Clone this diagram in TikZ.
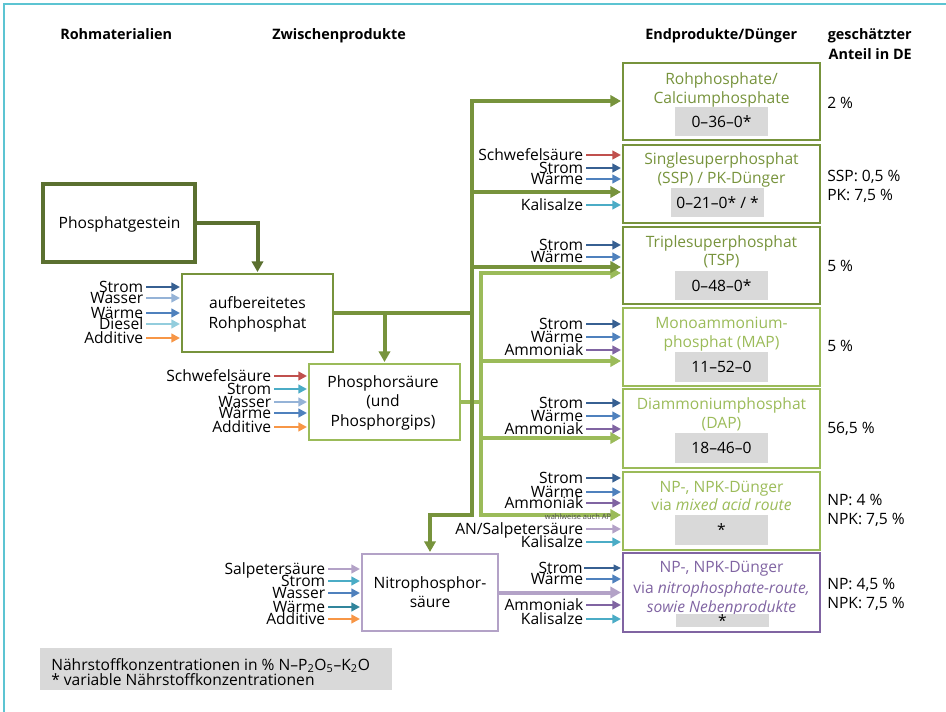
\documentclass[tikz,border=0pt]{standalone}
\usepackage{fontspec}
\setmainfont{Open Sans}
\usetikzlibrary{arrows.meta,calc}

\definecolor{pgolive}{HTML}{5B7030}
\definecolor{olive}{HTML}{77933C}
\definecolor{lgreen}{HTML}{9BBB59}
\definecolor{purp}{HTML}{8064A2}
\definecolor{lpurp}{HTML}{B3A2C7}
\definecolor{dblue}{HTML}{376092}
\definecolor{mblue}{HTML}{4F81BD}
\definecolor{lblue}{HTML}{95B3D7}
\definecolor{dieselc}{HTML}{93CDDD}
\definecolor{cyanc}{HTML}{4BACC6}
\definecolor{tealc}{HTML}{31859C}
\definecolor{redc}{HTML}{C0504D}
\definecolor{orangec}{HTML}{F79646}
\definecolor{grayc}{HTML}{D9D9D9}
\definecolor{framec}{HTML}{5CC4D2}

\tikzset{
  basefont/.style={font=\fontsize{11.7}{12}\selectfont},
  lbl/.style={basefont, inner sep=0pt, anchor=base east, text=black},
  txt/.style={basefont, inner sep=0pt, anchor=base},
  pct/.style={basefont, inner sep=0pt, anchor=base west, text=black},
  hdr/.style={font=\bfseries\fontsize{10.8}{12}\selectfont, inner sep=0pt},
  boxsz/.style n args={2}{minimum width=#1*0.75pt, minimum height=#2*0.75pt},
  pbox/.style={draw, rectangle, inner sep=0pt, line width=2pt},
  graybox/.style={fill=grayc, rectangle, inner sep=0pt, basefont, text=black},
  inarr/.style={line width=2.2pt, -{Triangle[length=6.5pt,width=6.5pt]}, shorten >=0.5pt},
  thinarr/.style={line width=1.2pt, -{Triangle[length=5.5pt,width=5pt]}, shorten >=0.5pt},
  mainline/.style={line width=3pt},
  mainarr/.style={line width=3pt, -{Triangle[length=8pt,width=8.5pt]}, shorten >=0.5pt},
}

\newcommand\inarrow[6]{%
  \coordinate (#1) at (#2,#3);
  \node[lbl] (#1L) at ($(#1)+(-2.5,5.3)$) {#5};
  \draw[inarr,#4] (#1) -- (#1 -| #6.west);
}

\begin{document}
\begin{tikzpicture}[x=0.75pt,y=-0.75pt]
\useasboundingbox (0,0) rectangle (946,712);

% frame
\draw[framec, line width=1.4pt] (4,712) -- (4,4) -- (946,4);

% headers
\node[hdr, anchor=base west] (h1) at (60,40) {Rohmaterialien};
\node[hdr, anchor=base west] (h2) at (272,40) {Zwischenprodukte};
\node[hdr, anchor=base west] (h3) at (645,40) {Endprodukte/Dünger};
\node[hdr, anchor=base east] (h4) at (912,40) {geschätzter};
\node[hdr, anchor=base east] (h5) at (912,60) {Anteil in DE};

% left boxes
\node[pbox, draw=pgolive, line width=2.3pt, boxsz={152}{78}] (pg) at (119,223) {};
\node[txt] (pgT) at (119.5,228.5) {Phosphatgestein};

\node[pbox, draw=olive, boxsz={151}{78}] (aufb) at (257.5,313) {};
\node[txt] (aufbT1) at (257.5,308.5) {aufbereitetes};
\node[txt] (aufbT2) at (257.5,328.5) {Rohphosphat};

\node[pbox, draw=lgreen, boxsz={151}{76}] (ps) at (384.5,402) {};
\node[txt] (psT1) at (383,387.5) {Phosphorsäure};
\node[txt] (psT2) at (383,406.5) {(und};
\node[txt] (psT3) at (383,426.5) {Phosphorgips)};

\node[pbox, draw=lpurp, boxsz={136}{77}] (nitro) at (430,592.5) {};
\node[txt] (nitroT1) at (430,588.5) {Nitrophosphor-};
\node[txt] (nitroT2) at (430,607.5) {säure};

% final boxes
\node[pbox, draw=olive, boxsz={197}{77}] (rp) at (721.5,101.5) {};
\node[txt, text=olive] (rpT1) at (721.5,84.5) {Rohphosphate/};
\node[txt, text=olive] (rpT2) at (721.5,103.5) {Calciumphosphate};
\node[graybox, boxsz={93}{29}] (rpG) at (721.5,121.5) {0–36–0*};

\node[pbox, draw=olive, boxsz={197}{78}] (ssp) at (721.5,184) {};
\node[txt, text=olive] (sspT1) at (721.5,164.5) {Singlesuperphosphat};
\node[txt, text=olive] (sspT2) at (721.5,183.5) {(SSP) / PK-Dünger};
\node[graybox, boxsz={93}{29}] (sspG) at (717.5,202.5) {0–21–0* / *};

\node[pbox, draw=olive, boxsz={197}{77}] (tsp) at (721.5,265.5) {};
\node[txt, text=olive] (tspT1) at (721.5,247.5) {Triplesuperphosphat};
\node[txt, text=olive] (tspT2) at (721.5,265.5) {(TSP)};
\node[graybox, boxsz={93}{29}] (tspG) at (721.5,285.5) {0–48–0*};

\node[pbox, draw=lgreen, boxsz={197}{78}] (map) at (721.5,347) {};
\node[txt, text=lgreen] (mapT1) at (721.5,328.5) {Monoammonium-};
\node[txt, text=lgreen] (mapT2) at (721.5,347.5) {phosphat (MAP)};
\node[graybox, boxsz={93}{30}] (mapG) at (721.5,367) {11–52–0};

\node[pbox, draw=lgreen, boxsz={197}{79}] (dap) at (721.5,428.5) {};
\node[txt, text=lgreen] (dapT1) at (721.5,409.5) {Diammoniumphosphat};
\node[txt, text=lgreen] (dapT2) at (721.5,428.5) {(DAP)};
\node[graybox, boxsz={93}{30}] (dapG) at (721.5,448) {18–46–0};

\node[pbox, draw=lgreen, boxsz={197}{78}] (npm) at (721.5,511) {};
\node[txt, text=lgreen] (npmT1) at (721.5,492.5) {NP-, NPK-Dünger};
\node[txt, text=lgreen] (npmT2) at (721.5,510.5) {via \textit{mixed acid route}};
\node[graybox, boxsz={93}{30}] (npmG) at (721.5,530) {*};

\node[pbox, draw=purp, boxsz={197}{79}] (npn) at (721.5,592.5) {};
\node[txt, text=purp] (npnT1) at (721.5,572.5) {NP-, NPK-Dünger};
\node[txt, text=purp] (npnT2) at (721.5,593) {via \textit{nitrophosphate-route,}};
\node[txt, text=purp] (npnT3) at (721.5,612.5) {\textit{sowie Nebenprodukte}};
\node[graybox, boxsz={93}{13}] (npnG) at (722.5,620.5) {*};

% percentages
\node[pct] (p1) at (827,108.5) {2 \%};
\node[pct] (p2) at (827,181.5) {SSP: 0,5 \%};
\node[pct] (p3) at (827,200.5) {PK: 7,5 \%};
\node[pct] (p4) at (827,271.5) {5 \%};
\node[pct] (p5) at (827,351.5) {5 \%};
\node[pct] (p6) at (827,433.5) {56,5 \%};
\node[pct] (p7) at (827,505.5) {NP: 4 \%};
\node[pct] (p8) at (827,524.5) {NPK: 7,5 \%};
\node[pct] (p9) at (827,589.5) {NP: 4,5 \%};
\node[pct] (p10) at (827,608.5) {NPK: 7,5 \%};

% main flows: light green trunk
\coordinate (lTop) at (481,273);
\coordinate (lBot) at (481,515);
\coordinate (lM) at (481,361);
\coordinate (lD) at (481,438);
\coordinate (jP) at (481,402);
\draw[mainline, lgreen] (ps.east) -- (jP);
\draw[mainarr, lgreen] (lBot) -- (lTop) -- (lTop -| tsp.west);
\draw[mainarr, lgreen] (lTop) -- (lBot) -- (lBot -| npm.west);
\draw[mainarr, lgreen] (lM) -- (lM -| map.west);
\draw[mainarr, lgreen] (lD) -- (lD -| dap.west);

% dark trunk
\coordinate (tTop) at (472,101);
\coordinate (tBot) at (472,515);
\coordinate (tS) at (472,192);
\coordinate (tT) at (472,267);
\coordinate (jA) at (472,313);
\draw[mainarr, pgolive] (pg.east) -| (aufb.north);
\draw[mainline, olive] (aufb.east) -- (jA);
\draw[mainarr, olive] (ps.north |- aufb.east) -- (ps.north);
\draw[mainarr, olive] (tBot) -- (tTop) -- (tTop -| rp.west);
\draw[mainarr, olive] (tTop) -- (tBot) -| (nitro.north);
\draw[mainarr, olive] (tS) -- (tS -| ssp.west);
\draw[mainarr, olive] (tT) -- (tT -| tsp.west);

\draw[mainarr, lpurp] (nitro.east) -- (nitro.east -| npn.west);

\node[font=\fontsize{5.6}{6}\selectfont, text=black!70, inner sep=0pt, anchor=base] (wa) at (578,519.5) {wahlweise auch AP};

% inputs: aufbereitetes Rohphosphat
\inarrow{a1}{146}{287}{dblue}{Strom}{aufb}
\inarrow{a2}{146}{298}{lblue}{Wasser}{aufb}
\inarrow{a3}{146}{313}{mblue}{Wärme}{aufb}
\inarrow{a4}{146}{324}{dieselc}{Diesel}{aufb}
\inarrow{a5}{146}{338}{orangec}{Additive}{aufb}

% inputs: Phosphorsaeure
\inarrow{b1}{274}{376}{redc}{Schwefelsäure}{ps}
\inarrow{b2}{274}{389}{cyanc}{Strom}{ps}
\inarrow{b3}{274}{402}{lblue}{Wasser}{ps}
\inarrow{b4}{274}{413}{mblue}{Wärme}{ps}
\inarrow{b5}{274}{427}{orangec}{Additive}{ps}

% inputs: Nitrophosphorsaeure
\inarrow{c1}{328}{569}{lpurp}{Salpetersäure}{nitro}
\inarrow{c2}{328}{581}{cyanc}{Strom}{nitro}
\inarrow{c3}{328}{593}{mblue}{Wasser}{nitro}
\inarrow{c4}{328}{607}{tealc}{Wärme}{nitro}
\inarrow{c5}{328}{619}{orangec}{Additive}{nitro}

% inputs: SSP
\inarrow{d1}{586}{155}{redc}{Schwefelsäure}{ssp}
\inarrow{d2}{586}{168}{dblue}{Strom}{ssp}
\inarrow{d3}{586}{179}{mblue}{Wärme}{ssp}
\inarrow{d4}{586}{205}{cyanc}{Kalisalze}{ssp}

% inputs: TSP
\inarrow{e1}{586}{245}{dblue}{Strom}{tsp}
\inarrow{e2}{586}{257}{mblue}{Wärme}{tsp}

% inputs: MAP
\inarrow{f1}{586}{324}{dblue}{Strom}{map}
\inarrow{f2}{586}{337}{mblue}{Wärme}{map}
\inarrow{f3}{586}{350}{purp}{Ammoniak}{map}

% inputs: DAP
\inarrow{g1}{586}{403}{dblue}{Strom}{dap}
\inarrow{g2}{586}{416}{mblue}{Wärme}{dap}
\inarrow{g3}{586}{429}{purp}{Ammoniak}{dap}

% inputs: NP mixed acid
\inarrow{m1}{586}{478}{dblue}{Strom}{npm}
\inarrow{m2}{586}{492}{mblue}{Wärme}{npm}
\inarrow{m3}{586}{503}{purp}{Ammoniak}{npm}
\inarrow{m4}{586}{529}{lpurp}{AN/Salpetersäure}{npm}
\inarrow{m5}{586}{542}{cyanc}{Kalisalze}{npm}

% inputs: NP nitrophosphate
\coordinate (n1) at (584,568);
\node[lbl] (n1L) at ($(n1)+(-1,5.3)$) {Strom};
\draw[thinarr, dblue] (n1) -- (n1 -| npn.west);
\inarrow{n2}{586}{579}{mblue}{Wärme}{npn}
\inarrow{n3}{586}{605}{purp}{Ammoniak}{npn}
\inarrow{n4}{586}{619}{cyanc}{Kalisalze}{npn}

% legend
\node[fill=grayc, inner sep=0pt, boxsz={352}{42}, anchor=north west] (leg) at (40,648) {};
\node[basefont, inner sep=0pt, anchor=base west] (legT1) at (51,670) {Nährstoffkonzentrationen in \% N–P\textsubscript{2}O\textsubscript{5}–K\textsubscript{2}O};
\node[basefont, inner sep=0pt, anchor=base west] (legT2) at (51,685) {* variable Nährstoffkonzentrationen};

\end{tikzpicture}
\end{document}
